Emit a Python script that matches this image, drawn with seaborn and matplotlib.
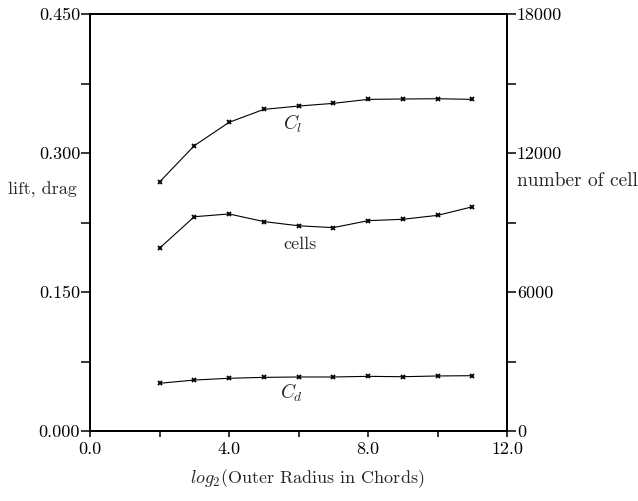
import matplotlib
matplotlib.use("Agg")
import matplotlib.pyplot as plt
import pandas as pd
import seaborn as sns
from matplotlib.ticker import MultipleLocator

# log2 of outer radius in chords
radius_log2 = [2, 3, 4, 5, 6, 7, 8, 9, 10, 11]
lift = [0.2687, 0.3079, 0.3331, 0.3471, 0.3507, 0.3536, 0.3579, 0.3583, 0.3586, 0.3579]
drag = [0.0515, 0.0550, 0.0569, 0.0579, 0.0583, 0.0583, 0.0590, 0.0586, 0.0594, 0.0597]
cells = [7890, 9250, 9370, 9040, 8860, 8780, 9080, 9140, 9310, 9680]

left_ticks = [0.0, 0.150, 0.300, 0.450]
left_labels = ["0.000", "0.150", "0.300", "0.450"]
right_ticks = [0, 6000, 12000, 18000]
right_labels = ["0", "6000", "12000", "18000"]
x_ticks = [0.0, 4.0, 8.0, 12.0]
x_labels = ["0.0", "4.0", "8.0", "12.0"]

df = pd.DataFrame({"r": radius_log2, "lift": lift, "drag": drag, "cells": cells})

sns.set_style("ticks")
plt.rcParams["font.family"] = ["cmr10", "DejaVu Serif"]
plt.rcParams["mathtext.fontset"] = "cm"
plt.rcParams["axes.formatter.use_mathtext"] = True

fig = plt.figure(figsize=(6.38, 5.01), dpi=100)
ax = fig.add_axes([0.141, 0.1397, 0.654, 0.8323])
ax2 = ax.twinx()

line_kw = dict(color="black", linewidth=0.8, marker="x", markersize=3.5,
               markeredgewidth=1.3, markeredgecolor="black")
sns.lineplot(data=df, x="r", y="lift", ax=ax, **line_kw)
sns.lineplot(data=df, x="r", y="drag", ax=ax, **line_kw)
sns.lineplot(data=df, x="r", y="cells", ax=ax2, **line_kw)

ax.set_xlim(0, 12)
ax.set_ylim(0, 0.45)
ax2.set_ylim(0, 18000)

ax.set_xticks(x_ticks, x_labels)
ax.set_yticks(left_ticks, left_labels)
ax2.set_yticks(right_ticks, right_labels)
ax.xaxis.set_minor_locator(MultipleLocator(2))
ax.yaxis.set_minor_locator(MultipleLocator(0.075))
ax2.yaxis.set_minor_locator(MultipleLocator(3000))

for a in (ax, ax2):
    a.tick_params(axis="y", which="both", direction="out", length=6.5, width=1.1,
                  labelsize=13, pad=0.5, colors="black")
    for s in a.spines.values():
        s.set_visible(True)
        s.set_linewidth(1.3)
        s.set_color("black")
ax.tick_params(axis="x", which="both", direction="out", length=4, width=1.1,
               labelsize=13, pad=4, colors="black")

ax.set_xlabel("")
ax.set_ylabel("")
ax2.set_ylabel("")

ax.text(5.84, 0.332, r"$C_l$", fontsize=14, ha="center", va="center")
ax.text(6.05, 0.201, "cells", fontsize=13, ha="center", va="center")
ax.text(5.8, 0.041, r"$C_d$", fontsize=14, ha="center", va="center")

fig.text(0.013, 0.622, "lift, drag", fontsize=13, ha="left", va="center")
fig.text(0.810, 0.639, "number of cell", fontsize=14, ha="left", va="center")
fig.text(0.481, 0.044, r"$log_2$(Outer Radius in Chords)", fontsize=13,
         ha="center", va="center")

fig.savefig("out.png", dpi=100)
